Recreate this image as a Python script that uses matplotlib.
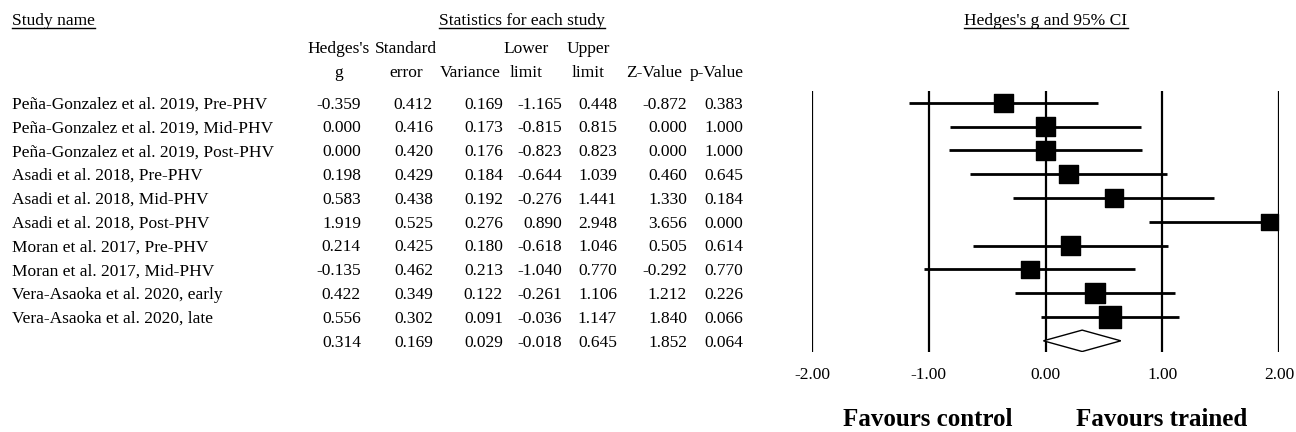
import numpy as np
import matplotlib
matplotlib.use("Agg")
import matplotlib.pyplot as plt
from matplotlib.patches import Polygon
from matplotlib.transforms import blended_transform_factory

plt.rcParams["font.family"] = ["Liberation Serif", "DejaVu Serif"]

studies = [
    "Peña-Gonzalez et al. 2019, Pre-PHV",
    "Peña-Gonzalez et al. 2019, Mid-PHV",
    "Peña-Gonzalez et al. 2019, Post-PHV",
    "Asadi et al. 2018, Pre-PHV",
    "Asadi et al. 2018, Mid-PHV",
    "Asadi et al. 2018, Post-PHV",
    "Moran et al. 2017, Pre-PHV",
    "Moran et al. 2017, Mid-PHV",
    "Vera-Asaoka et al. 2020, early",
    "Vera-Asaoka et al. 2020, late",
]
g = [-0.359, 0.000, 0.000, 0.198, 0.583, 1.919, 0.214, -0.135, 0.422, 0.556]
se = [0.412, 0.416, 0.420, 0.429, 0.438, 0.525, 0.425, 0.462, 0.349, 0.302]
var = [0.169, 0.173, 0.176, 0.184, 0.192, 0.276, 0.180, 0.213, 0.122, 0.091]
lower = [-1.165, -0.815, -0.823, -0.644, -0.276, 0.890, -0.618, -1.040, -0.261, -0.036]
upper = [0.448, 0.815, 0.823, 1.039, 1.441, 2.948, 1.046, 0.770, 1.106, 1.147]
zval = [-0.872, 0.000, 0.000, 0.460, 1.330, 3.656, 0.505, -0.292, 1.212, 1.840]
pval = [0.383, 1.000, 1.000, 0.645, 0.184, 0.000, 0.614, 0.770, 0.226, 0.066]

# pooled (summary) row
pooled = [0.314, 0.169, 0.029, -0.018, 0.645, 1.852, 0.064]

xticks = [-2, -1, 0, 1, 2]

W, H = 1296, 432
fig = plt.figure(figsize=(W / 100, H / 100), dpi=100)

# forest panel in pixel placement
x0, x1 = 812, 1279
y_top, y_bot = 91, 352
ax = fig.add_axes([x0 / W, 1 - y_bot / H, (x1 - x0) / W, (y_bot - y_top) / H])
n = len(studies)
ax.set_xlim(-2, 2)
ax.set_ylim(n + 0.47, -0.5)
for s in ax.spines.values():
    s.set_visible(False)
ax.set_yticks([])
ax.set_xticks(xticks)
ax.set_xticklabels([f"{t:.2f}" for t in xticks], fontsize=12.5)
ax.tick_params(axis="x", length=0, pad=11)
for t in xticks:
    ax.axvline(t, color="black", lw=1.6, zorder=1)

rows = np.arange(n)
ax.hlines(rows, lower, upper, color="black", lw=2.0, zorder=2)
w = 1 / np.array(var)
side = 19 * (w / w[0]) ** 0.27
ax.scatter(g, rows, marker="s", s=side ** 2 * 0.5, color="black", zorder=3,
           clip_on=False)

pg, _, _, plo, phi = pooled[:5]
dia = Polygon([[plo, n], [pg, n - 0.45], [phi, n], [pg, n + 0.45]],
              closed=True, facecolor="white", edgecolor="black", lw=1.0, zorder=3)
ax.add_patch(dia)

# table text, aligned to forest rows
tr = blended_transform_factory(fig.transFigure, ax.transData)
fs = 12.5
off = 0.24  # baseline sits a little below row centre


def fx(px):
    return px / W


col_right = [361, 433, 503, 562, 617, 687, 743]
for i in range(n):
    ax.text(fx(12), i + off, studies[i], transform=tr, fontsize=fs,
            va="baseline", ha="left")
    vals = [g[i], se[i], var[i], lower[i], upper[i], zval[i], pval[i]]
    for cx, v in zip(col_right, vals):
        ax.text(fx(cx), i + off, f"{v:.3f}", transform=tr, fontsize=fs,
                va="baseline", ha="right")
for cx, v in zip(col_right, pooled):
    ax.text(fx(cx), n + off, f"{v:.3f}", transform=tr, fontsize=fs,
            va="baseline", ha="right")


# headers
def ftext(px, py, s, **kw):
    fig.text(px / W, 1 - py / H, s, fontsize=fs, va="baseline", **kw)


ftext(12, 25, "Study name", ha="left")
ftext(522, 25, "Statistics for each study", ha="center")
ftext(1046, 25, "Hedges's g and 95% CI", ha="center")

for t in list(fig.texts):
    bb = t.get_window_extent(fig.canvas.get_renderer())
    yl = 1 - 28 / H
    fig.add_artist(plt.Line2D([bb.x0 / W, bb.x1 / W], [yl, yl],
                              color="black", lw=1.0, transform=fig.transFigure))

head1 = [(339, "Hedges's"), (406, "Standard"), (526, "Lower"), (588, "Upper")]
head2 = [(339, "g"), (406, "error"), (470, "Variance"), (526, "limit"),
         (588, "limit"), (654, "Z-Value"), (717, "p-Value")]
for cx, s in head1:
    ftext(cx, 53, s, ha="center")
for cx, s in head2:
    ftext(cx, 77, s, ha="center")

fig.text(928 / W, 1 - 426 / H, "Favours control", fontsize=18, fontweight="bold",
         ha="center", va="baseline")
fig.text(1162 / W, 1 - 426 / H, "Favours trained", fontsize=18, fontweight="bold",
         ha="center", va="baseline")

fig.savefig("out.png", dpi=100)
